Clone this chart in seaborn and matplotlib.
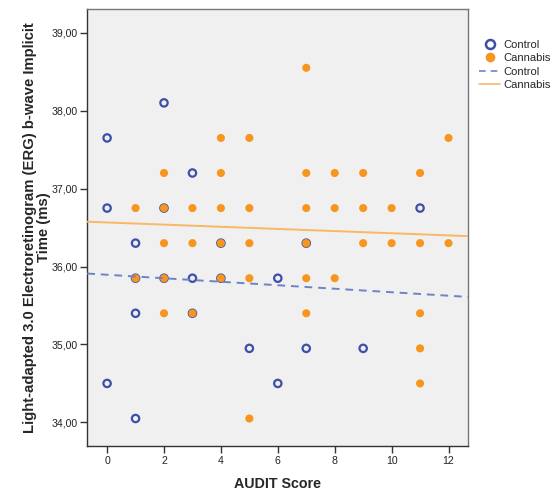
import numpy as np
import pandas as pd
import seaborn as sns
import matplotlib.pyplot as plt
from matplotlib.lines import Line2D

# AUDIT score vs implicit time
control_x = [0, 0, 0, 1, 1, 1, 1, 2, 2, 2, 3, 3, 3, 4, 4, 5, 6, 6, 7, 7, 9, 11]
control_y = [37.65, 36.75, 34.5, 36.3, 35.85, 35.4, 34.05, 38.1, 36.75, 35.85,
             37.2, 35.85, 35.4, 36.3, 35.85, 34.95, 35.85, 34.5, 36.3, 34.95,
             34.95, 36.75]

cannabis_x = [1, 1,
              2, 2, 2, 2, 2,
              3, 3, 3,
              4, 4, 4, 4, 4,
              5, 5, 5, 5, 5,
              7, 7, 7, 7, 7, 7,
              8, 8, 8,
              9, 9, 9,
              10, 10,
              11, 11, 11, 11, 11,
              12, 12]
cannabis_y = [36.75, 35.85,
              37.2, 36.75, 36.3, 35.85, 35.4,
              36.75, 36.3, 35.4,
              37.65, 37.2, 36.75, 36.3, 35.85,
              37.65, 36.75, 36.3, 35.85, 34.05,
              38.55, 37.2, 36.75, 36.3, 35.85, 35.4,
              37.2, 36.75, 35.85,
              37.2, 36.75, 36.3,
              36.75, 36.3,
              37.2, 36.3, 35.4, 34.95, 34.5,
              37.65, 36.3]

# fit lines, read at the left and right edge of the plot
fit_x = [-0.7, 12.69]
control_fit = [35.91, 35.61]
cannabis_fit = [36.575, 36.39]

yticks = [34, 35, 36, 37, 38, 39]
xticks = [0, 2, 4, 6, 8, 10, 12]

blue = "#3d4fa8"
blue_line = "#6f82c8"
orange = "#f7961e"
orange_line = "#f9b865"

ctrl = pd.DataFrame({"audit": control_x, "erg": control_y})
cann = pd.DataFrame({"audit": cannabis_x, "erg": cannabis_y})
fits = pd.DataFrame({"audit": fit_x, "ctrl": control_fit, "cann": cannabis_fit})

sns.set_style("white")
plt.rcParams["font.family"] = ["Liberation Sans", "DejaVu Sans"]

fig = plt.figure(figsize=(5.56, 4.93), dpi=100)
ax = fig.add_axes([0.157, 0.0953, 0.685, 0.8864])
ax.set_facecolor("#f0f0f0")

sns.scatterplot(data=ctrl, x="audit", y="erg", ax=ax, marker="o", s=28,
                facecolor="none", edgecolor=blue, linewidth=1.6, zorder=3)
sns.scatterplot(data=cann, x="audit", y="erg", ax=ax, marker="o", s=34,
                color=orange, edgecolor="none", linewidth=0, zorder=4)

sns.lineplot(data=fits, x="audit", y="ctrl", ax=ax, color=blue_line, lw=1.4,
             dashes=(4, 3), zorder=5)
sns.lineplot(data=fits, x="audit", y="cann", ax=ax, color=orange_line, lw=1.4,
             zorder=5)

ax.set_xlim(-0.696, 12.69)
ax.set_ylim(33.697, 39.304)

ax.set_xticks(xticks)
ax.set_yticks(yticks)
ax.set_yticklabels([f"{v:.2f}".replace(".", ",") for v in yticks])
ax.tick_params(axis="both", direction="out", length=5, width=1,
               color="#333333", labelsize=7.6, labelcolor="#222222",
               left=True, bottom=True, pad=2)

for side, sp in ax.spines.items():
    sp.set_visible(True)
    sp.set_linewidth(1)
    sp.set_color("#333333" if side in ("left", "bottom") else "#777777")

ax.set_xlabel("AUDIT Score", fontsize=10.3, fontweight="bold", labelpad=8)
ax.set_ylabel("Light-adapted 3.0 Electroretinogram (ERG) b-wave Implicit\nTime (ms)",
              fontsize=10.7, fontweight="bold", labelpad=0, linespacing=1.0)

handles = [
    Line2D([], [], ls="none", marker="o", ms=6.5, mfc="none", mec=blue, mew=1.8),
    Line2D([], [], ls="none", marker="o", ms=7, mfc=orange, mec="none"),
    Line2D([], [], color=blue_line, lw=1.2, ls=(0, (4, 3))),
    Line2D([], [], color=orange_line, lw=1.2),
]
fig.legend(handles, ["Control", "Cannabis", "Control", "Cannabis"],
           loc="upper left", bbox_to_anchor=(0.862, 0.919), frameon=False,
           fontsize=8, handlelength=1.9, handletextpad=0.25,
           labelspacing=0.3, borderaxespad=0, borderpad=0)

fig.savefig("out.png", dpi=100)
